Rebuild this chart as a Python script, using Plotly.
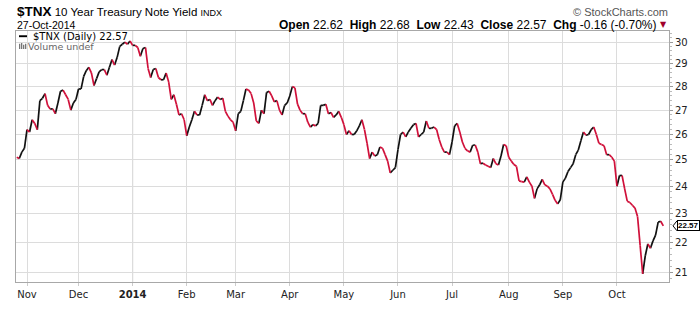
import numpy as np
import pandas as pd
import plotly.graph_objects as go

# ---------------- data ----------------
closes = [
    25.1, 25.05, 25.3, 25.45, 26.2, 26.1, 26.6, 26.45, 26.2, 27.4,
    27.5, 27.7, 27.2, 27.05, 27.05, 26.85, 27.3, 27.8, 27.85, 27.65,
    27.45, 27.0, 27.3, 27.45, 27.9, 27.9, 28.45, 28.7, 28.85, 28.6,
    28.05, 28.35, 28.65, 28.75, 28.75, 28.5, 28.85, 29.2, 28.95, 29.3,
    29.8, 29.9, 30.0, 29.9, 30.05, 29.85, 29.85, 29.75, 29.35, 29.7,
    29.75, 28.8, 28.4, 28.75, 28.8, 28.4, 28.3, 28.3, 28.6, 28.2,
    27.45, 27.65, 27.25, 26.8, 26.85, 26.6, 25.95, 26.3, 26.6, 26.95,
    26.8, 26.8, 27.2, 27.65, 27.4, 27.45, 27.2, 27.4, 27.55, 27.45,
    27.5, 26.95, 26.75, 26.6, 26.5, 26.15, 26.85, 26.95, 27.4, 27.9,
    27.85, 27.7, 27.3, 26.55, 26.45, 27.0, 26.85, 27.75, 27.8, 27.6,
    27.35, 27.4, 27.0, 26.8, 27.2, 27.3, 27.6, 28.0, 27.95, 27.25,
    27.0, 26.85, 26.85, 26.5, 26.3, 26.4, 26.35, 26.45, 27.2, 27.2,
    27.25, 26.85, 26.9, 26.7, 26.8, 26.95, 26.7, 26.4, 26.0, 26.15,
    26.0, 26.0, 26.15, 26.35, 26.6, 26.2, 25.65, 25.05, 25.3, 25.15,
    25.2, 25.5, 25.45, 25.2, 24.95, 24.5, 24.6, 24.7, 25.4, 26.0,
    26.1, 25.9, 26.1, 26.25, 26.4, 26.45, 25.9, 26.0, 26.1, 26.55,
    26.25, 26.25, 26.3, 26.2, 25.8, 25.5, 25.3, 25.3, 25.2, 25.7,
    26.35, 26.45, 26.1, 25.7, 25.45, 25.35, 25.3, 25.57, 25.58, 25.3,
    24.85, 24.87, 24.8, 24.75, 24.7, 25.05, 24.85, 24.8, 25.15, 25.6,
    25.55, 25.1, 24.95, 24.82, 24.75, 24.2, 24.17, 24.15, 24.35, 24.15,
    24.0, 23.55, 23.9, 24.05, 24.25, 24.05, 24.0, 23.9, 23.7, 23.48,
    23.35, 23.5, 24.15, 24.3, 24.55, 24.7, 24.85, 25.2, 25.38, 25.75,
    26.1, 25.97, 26.0, 26.2, 26.3, 26.0, 25.65, 25.6, 25.55, 25.2,
    25.2, 25.1, 24.95, 24.0, 24.4, 24.4, 23.9, 23.45, 23.4, 23.3,
    23.2, 22.9, 21.9, 20.95, 21.55, 21.95, 21.8, 22.05, 22.25, 22.7,
    22.73, 22.57,
]

holidays = ["2013-11-28", "2013-12-25", "2014-01-01", "2014-01-20", "2014-02-17",
            "2014-04-18", "2014-05-26", "2014-07-04", "2014-09-01"]

month_starts = ["2013-11-01", "2013-12-02", "2014-01-02", "2014-02-03", "2014-03-03",
                "2014-04-01", "2014-05-01", "2014-06-02", "2014-07-01", "2014-08-01",
                "2014-09-02", "2014-10-01"]
month_labels = ["Nov", "Dec", "<b>2014</b>", "Feb", "Mar", "Apr", "May", "Jun",
                "Jul", "Aug", "Sep", "Oct"]

y_ticks = [21, 22, 23, 24, 25, 26, 27, 28, 29, 30]

last_open, last_high, last_low, last_close = 22.62, 22.68, 22.43, 22.57
last_chg, last_chg_pct = -0.16, -0.70
as_of = "27-Oct-2014"

# --------------- build -----------------
dates = [d for d in pd.bdate_range("2013-10-28", "2014-10-27")
         if d.strftime("%Y-%m-%d") not in holidays]
dates = [d.strftime("%Y-%m-%d") for d in dates]
assert len(dates) == len(closes), (len(dates), len(closes))

RED = "#d0103a"
up_x, up_y, dn_x, dn_y = [], [], [], []
for i in range(1, len(closes)):
    if closes[i] >= closes[i - 1]:
        up_x += [dates[i - 1], dates[i], None]
        up_y += [closes[i - 1], closes[i], None]
    else:
        dn_x += [dates[i - 1], dates[i], None]
        dn_y += [closes[i - 1], closes[i], None]

fig = go.Figure()
fig.add_trace(go.Scatter(x=up_x, y=up_y, mode="lines", line=dict(color="#111111", width=1.7),
                         hoverinfo="skip", showlegend=False, connectgaps=False))
fig.add_trace(go.Scatter(x=dn_x, y=dn_y, mode="lines", line=dict(color=RED, width=1.7),
                         hoverinfo="skip", showlegend=False, connectgaps=False))

W, H = 700, 312
L, R, T, B = 16, 669, 31, 295


def px(x):
    return (x - L) / (R - L)


def py(y):
    return (B - y) / (B - T)


minor_vals = [round(v, 1) for v in np.arange(20.8, 30.6, 0.2) if abs(v - round(v)) > 0.05]

fig.update_layout(
    width=W, height=H,
    margin=dict(l=L, r=W - R, t=T, b=H - B),
    paper_bgcolor="white", plot_bgcolor="white",
    showlegend=False,
    xaxis=dict(
        range=["2013-10-25 17:30", "2014-10-29 05:00"],
        rangebreaks=[dict(bounds=["sat", "mon"]), dict(values=holidays)],
        tickmode="array", tickvals=month_starts, ticktext=month_labels,
        showgrid=True, gridcolor="#dcdcdc", gridwidth=1,
        ticks="outside", ticklen=3, tickcolor="#cccccc",
        showline=True, linecolor="#a8a8a8", linewidth=1, mirror=True,
        tickfont=dict(family="DejaVu Sans", size=10, color="#222222"),
        zeroline=False, fixedrange=True,
    ),
    yaxis=dict(
        type="log", side="right",
        range=[np.log10(20.69), np.log10(30.52)],
        tickmode="array", tickvals=y_ticks, ticktext=[str(v) for v in y_ticks],
        showgrid=True, gridcolor="#dcdcdc", gridwidth=1,
        ticks="outside", ticklen=3, tickcolor="#999999",
        minor=dict(tickmode="array", tickvals=minor_vals, ticks="outside",
                   ticklen=2, tickcolor="#bbbbbb", showgrid=False),
        showline=True, linecolor="#a8a8a8", linewidth=1, mirror=True,
        tickfont=dict(family="DejaVu Sans", size=10, color="#222222"),
        zeroline=False, fixedrange=True,
    ),
)

# darker year separator
fig.add_shape(type="line", xref="x", yref="paper", x0="2014-01-02", x1="2014-01-02",
              y0=0, y1=1, line=dict(color="#a8a8a8", width=1), layer="below")

ann = []
sans = "Liberation Sans"
title = ("<span style='font-size:13.5px'><b>$TNX</b></span> 10 Year Treasury Note Yield "
         "<span style='font-size:9px'>INDX</span>")
ann.append(dict(x=px(16), y=py(10.5), text=title, font=dict(family=sans, size=11.5, color="#000")))
ann.append(dict(x=px(16), y=py(25), text=as_of, font=dict(family=sans, size=10.5, color="#000")))
ann.append(dict(x=px(669), y=py(10.5), text="\u00a9 StockCharts.com", xanchor="right",
                font=dict(family=sans, size=11, color="#555")))
ohlc = (f"<b>Open</b> {last_open:.2f}  <b>High</b> {last_high:.2f}  <b>Low</b> {last_low:.2f}  "
        f"<b>Close</b> {last_close:.2f}  <b>Chg</b> {last_chg:.2f} ({last_chg_pct:.2f}%)")
ann.append(dict(x=px(658), y=py(24.5), text=ohlc, xanchor="right",
                font=dict(family=sans, size=12, color="#000")))
ann.append(dict(x=px(659), y=py(24.5), text="\u25bc", xanchor="left",
                font=dict(family="DejaVu Sans", size=8, color="#a0002a")))
ann.append(dict(x=px(32), y=py(36.5), text=f"$TNX (Daily) {last_close:.2f}",
                font=dict(family="DejaVu Sans", size=10, color="#000")))
ann.append(dict(x=px(27), y=py(47), text="Volume undef",
                font=dict(family="DejaVu Sans", size=9.5, color="#666")))
for a in ann:
    a.setdefault("xanchor", "left")
    fig.add_annotation(xref="paper", yref="paper", yanchor="middle", showarrow=False,
                       borderpad=0, **a)

# legend swatch
fig.add_shape(type="rect", xref="paper", yref="paper", x0=px(19), x1=px(27),
              y0=py(37.5), y1=py(35.5), fillcolor="#000", line=dict(width=0))
# volume icon bars
for bx, top in [(19, 44.5), (21, 43.5), (23, 45.5), (25, 44.5)]:
    fig.add_shape(type="rect", xref="paper", yref="paper", x0=px(bx), x1=px(bx + 1.3),
                  y0=py(50), y1=py(top), fillcolor="#777", line=dict(width=0))

# last value tag
fig.add_annotation(xref="paper", yref="y", x=px(677), y=np.log10(last_close),
                   text=f"<b>{last_close:.2f}</b>", showarrow=False, xanchor="left",
                   yanchor="middle", font=dict(family=sans, size=8, color="#000"),
                   bordercolor="#000", borderwidth=1, borderpad=0, bgcolor="#fff")
fig.add_shape(type="path", xref="paper", yref="y", xsizemode="pixel", xanchor=px(669),
              ysizemode="pixel", yanchor=last_close,
              path="M 8,5 L 4,0 L 8,-5", line=dict(color="#000", width=1))

fig.write_html("out.html")
